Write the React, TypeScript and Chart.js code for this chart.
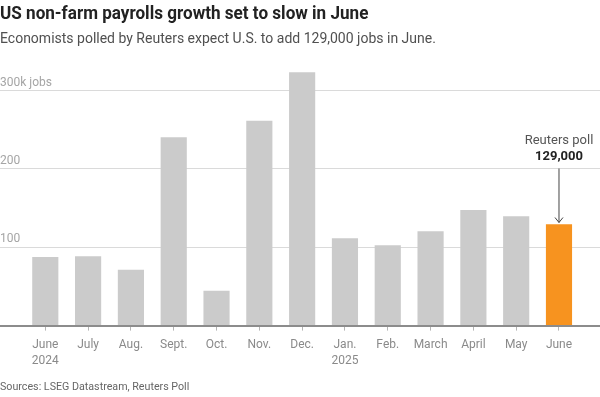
import React, { useEffect, useRef } from "react";
import { Chart, registerables } from "chart.js";

Chart.register(...registerables);

const TITLE = "US non-farm payrolls growth set to slow in June";
const SUBTITLE = "Economists polled by Reuters expect U.S. to add 129,000 jobs in June.";
const SOURCE = "Sources: LSEG Datastream, Reuters Poll";

const categories: (string | string[])[] = [
  ["June", "2024"], "July", "Aug.", "Sept.", "Oct.", "Nov.", "Dec.",
  ["Jan.", "2025"], "Feb.", "March", "April", "May", "June",
];
// thousands of jobs
const payrolls = [87, 88, 71, 240, 44, 261, 323, 111, 102, 120, 147, 139, 129];
const pollIndex = 12;
const yTicks = [0, 100, 200, 300];
const yTickLabels = ["", "100", "200", "300k jobs"];
const pollLabel = "Reuters poll";

const GRAY = "#cbcbcb";
const ORANGE = "#f7931f";
const FONT = "Roboto, 'Noto Sans', sans-serif";

const annotationPlugin = {
  id: "pollAnnotation",
  afterDatasetsDraw(chart: any) {
    const { ctx, scales } = chart;
    const x = scales.x.getPixelForValue(pollIndex);
    const yTop = scales.y.getPixelForValue(payrolls[pollIndex]);
    ctx.save();
    ctx.strokeStyle = "#444";
    ctx.lineWidth = 1;
    ctx.beginPath();
    ctx.moveTo(x, yTop - 56);
    ctx.lineTo(x, yTop - 2);
    ctx.moveTo(x - 4, yTop - 7);
    ctx.lineTo(x, yTop - 2);
    ctx.lineTo(x + 4, yTop - 7);
    ctx.stroke();
    ctx.textAlign = "center";
    ctx.textBaseline = "middle";
    ctx.fillStyle = "#555";
    ctx.font = `400 13px ${FONT}`;
    ctx.fillText(pollLabel, x, yTop - 84);
    ctx.fillStyle = "#222";
    ctx.font = `700 13px ${FONT}`;
    ctx.fillText((payrolls[pollIndex] * 1000).toLocaleString("en-US"), x, yTop - 68);
    ctx.restore();
  },
};

export default function App() {
  const ref = useRef<HTMLCanvasElement>(null);
  useEffect(() => {
    document.body.style.margin = "0";
    if (!ref.current) return;
    const chart = new Chart(ref.current, {
      type: "bar",
      data: {
        datasets: [
          {
            data: payrolls.map((v, i) => ({ x: i, y: v })),
            backgroundColor: payrolls.map((_, i) => (i === pollIndex ? ORANGE : GRAY)),
            barThickness: 25.5,
          } as any,
        ],
      },
      options: {
        animation: false,
        responsive: true,
        maintainAspectRatio: false,
        layout: { padding: { top: 58, bottom: 22, left: 0, right: 0 } },
        plugins: { legend: { display: false }, tooltip: { enabled: false } },
        scales: {
          x: {
            type: "linear",
            min: -1.058,
            max: 12.958,
            offset: false,
            afterBuildTicks: (axis: any) => {
              axis.ticks = categories.map((_, i) => ({ value: i }));
            },
            grid: { offset: false, drawOnChartArea: false, drawTicks: true, tickLength: 5, color: "#b5b5b5" },
            border: { display: false },
            ticks: {
              autoSkip: false,
              maxRotation: 0,
              padding: 6,
              color: "#8a8a8a",
              font: { family: FONT, size: 12, lineHeight: 1.35 },
              callback: (v: any) => categories[v as number] ?? "",
            },
          },
          y: {
            min: 0,
            max: 341.5,
            afterBuildTicks: (axis: any) => {
              axis.ticks = yTicks.map((v) => ({ value: v }));
            },
            border: { display: false },
            grid: {
              drawTicks: false,
              color: (c: any) => (c.tick && c.tick.value === 0 ? "#8c8c8c" : "#dadada"),
              lineWidth: (c: any) => (c.tick && c.tick.value === 0 ? 2 : 1),
            },
            ticks: {
              mirror: true,
              padding: 0,
              labelOffset: -8,
              color: "#a5a5a5",
              font: { family: FONT, size: 12 },
              callback: (v: any) => {
                const i = yTicks.indexOf(v as number);
                return i >= 0 ? yTickLabels[i] : "";
              },
            },
          },
        },
      },
      plugins: [annotationPlugin],
    });
    return () => chart.destroy();
  }, []);

  return (
    <div style={{ position: "relative", width: 600, height: 397, background: "#fff", fontFamily: FONT, overflow: "hidden" }}>
      <div style={{ position: "absolute", left: 0, top: 0, width: 600, height: 397 }}>
        <canvas ref={ref} />
      </div>
      <div
        style={{
          position: "absolute", left: 0, top: 1, fontSize: 18, fontWeight: 700, color: "#222",
          whiteSpace: "nowrap", transform: "scaleX(0.95)", transformOrigin: "left top", lineHeight: "24px",
        }}
      >
        {TITLE}
      </div>
      <div
        style={{
          position: "absolute", left: 0, top: 29, fontSize: 14, fontWeight: 400, color: "#505050",
          whiteSpace: "nowrap", lineHeight: "18px",
        }}
      >
        {SUBTITLE}
      </div>
      <div
        style={{
          position: "absolute", left: 0, top: 379, fontSize: 10.7, color: "#666",
          whiteSpace: "nowrap", lineHeight: "16px",
        }}
      >
        {SOURCE}
      </div>
    </div>
  );
}
